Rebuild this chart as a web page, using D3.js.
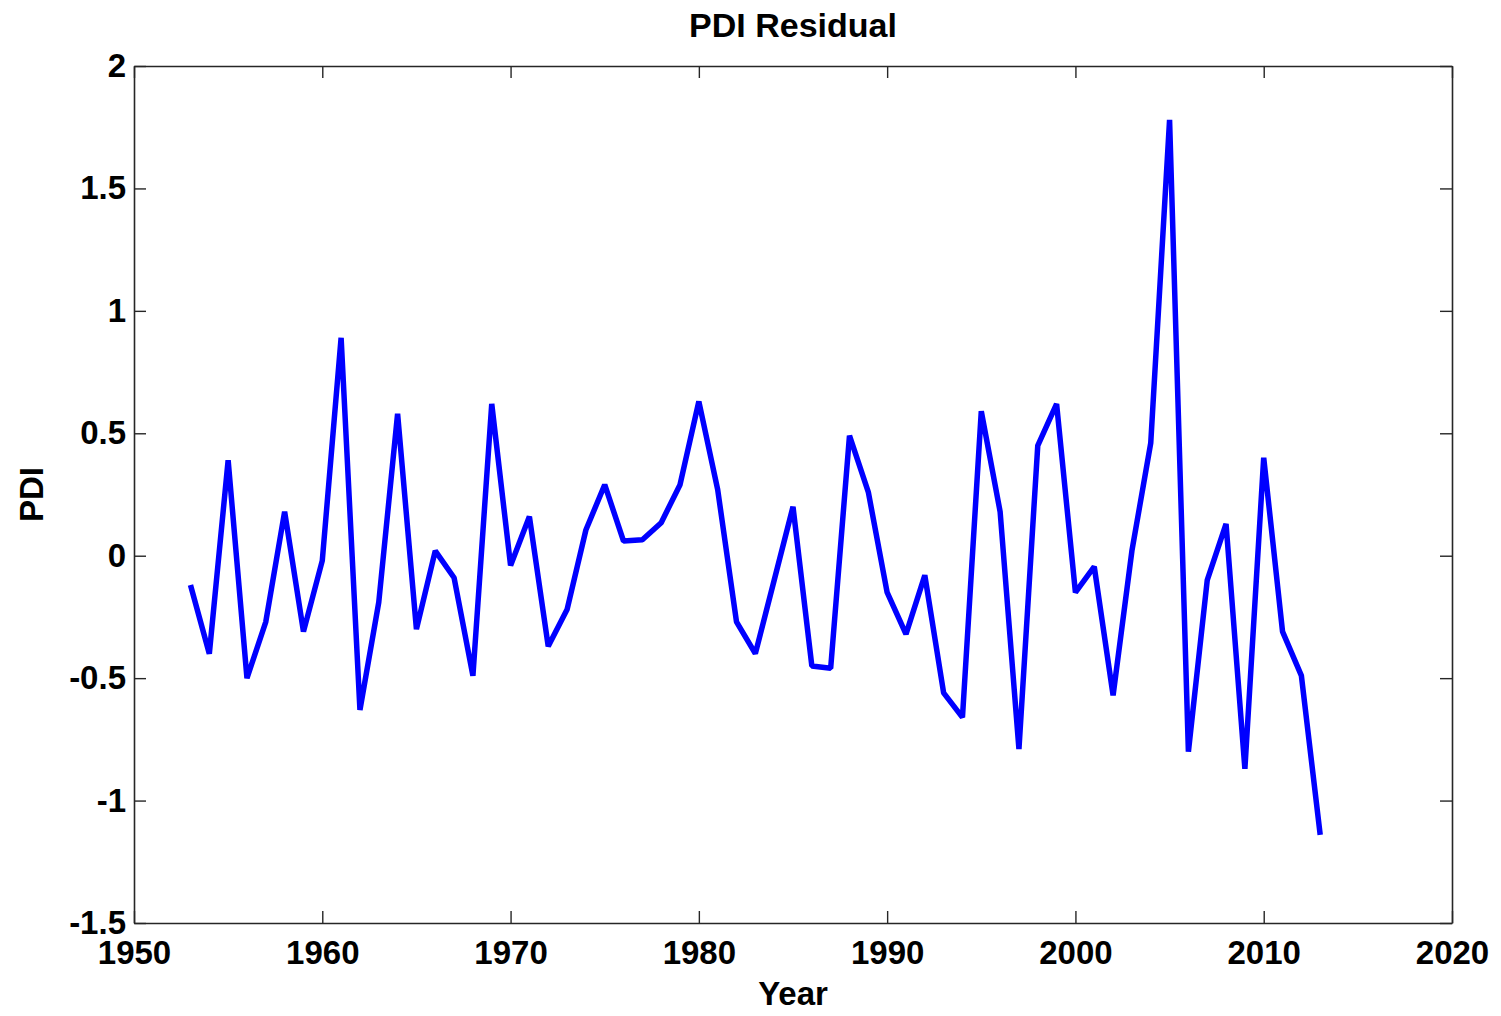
<!DOCTYPE html>
<html>
<head>
<meta charset="utf-8">
<script src="https://cdn.jsdelivr.net/npm/d3@7"></script>
<style>
  html, body { margin: 0; padding: 0; background: #fff; }
  svg { display: block; }
  text { font-family: "Liberation Sans", Arial, sans-serif; font-weight: bold; fill: #000; }
</style>
</head>
<body>
<script>
// ---- data ----
const years = [1953,1954,1955,1956,1957,1958,1959,1960,1961,1962,1963,1964,1965,1966,1967,1968,1969,1970,
  1971,1972,1973,1974,1975,1976,1977,1978,1979,1980,1981,1982,1983,1984,1985,1986,1987,1988,1989,1990,
  1991,1992,1993,1994,1995,1996,1997,1998,1999,2000,2001,2002,2003,2004,2005,2006,2007,2008,2009,2010,
  2011,2012,2013];
const pdiResidual = [-0.12,-0.40,0.39,-0.50,-0.27,0.18,-0.31,-0.02,0.89,-0.63,-0.19,0.58,-0.30,0.02,-0.09,-0.49,0.62,-0.04,
  0.16,-0.37,-0.22,0.105,0.29,0.06,0.065,0.135,0.29,0.63,0.27,-0.27,-0.40,-0.10,0.20,-0.45,-0.46,0.49,0.26,-0.15,
  -0.32,-0.08,-0.56,-0.66,0.59,0.18,-0.79,0.45,0.62,-0.15,-0.045,-0.57,0.02,0.46,1.78,-0.80,-0.10,0.13,-0.87,0.40,
  -0.31,-0.49,-1.14];
const xTicks = [1950,1960,1970,1980,1990,2000,2010,2020];
const yTicks = [-1.5,-1,-0.5,0,0.5,1,1.5,2];
const yTickLabels = ["-1.5","-1","-0.5","0","0.5","1","1.5","2"];
const titleText = "PDI Residual";
const xLabel = "Year";
const yLabel = "PDI";

// ---- layout ----
const W = 1501, H = 1016;
const L = 134, R = 1452, T = 66, B = 923;
const svg = d3.select("body").append("svg").attr("width", W).attr("height", H);

const x = d3.scaleLinear().domain([1950, 2020]).range([L, R]);
const y = d3.scaleLinear().domain([-1.5, 2]).range([B, T]);

const axisColor = "#262626";
const tick = 12;
const fs = 33;

function styleAxis(g) {
  g.selectAll("path.domain").attr("stroke", axisColor).attr("stroke-width", 1.6);
  g.selectAll(".tick line").attr("stroke", axisColor).attr("stroke-width", 1.4);
  g.selectAll("text").attr("font-size", fs).attr("font-family", "Liberation Sans, Arial, sans-serif")
    .attr("font-weight", "bold").attr("fill", "#000");
}

// bottom
svg.append("g").attr("transform", `translate(0,${B})`)
  .call(d3.axisBottom(x).tickValues(xTicks).tickFormat(d3.format("d")).tickSizeInner(-tick).tickSizeOuter(0).tickPadding(18))
  .call(styleAxis);
// top
svg.append("g").attr("transform", `translate(0,${T})`)
  .call(d3.axisTop(x).tickValues(xTicks).tickFormat("").tickSizeInner(-tick).tickSizeOuter(0))
  .call(styleAxis);
// left
svg.append("g").attr("transform", `translate(${L},0)`)
  .call(d3.axisLeft(y).tickValues(yTicks).tickFormat(d => yTickLabels[yTicks.indexOf(d)]).tickSizeInner(-tick).tickSizeOuter(0).tickPadding(8))
  .call(styleAxis);
// right
svg.append("g").attr("transform", `translate(${R},0)`)
  .call(d3.axisRight(y).tickValues(yTicks).tickFormat("").tickSizeInner(-tick).tickSizeOuter(0))
  .call(styleAxis);

// data line
const data = years.map((yr, i) => ({ yr, v: pdiResidual[i] }));
svg.append("path")
  .datum(data)
  .attr("fill", "none")
  .attr("stroke", "#0000ff")
  .attr("stroke-width", 5.5)
  .attr("stroke-linejoin", "bevel")
  .attr("d", d3.line().x(d => x(d.yr)).y(d => y(d.v)));

// titles
svg.append("text").attr("x", (L + R) / 2).attr("y", 37).attr("text-anchor", "middle")
  .attr("font-size", 34).text(titleText);
svg.append("text").attr("x", (L + R) / 2).attr("y", 1005).attr("text-anchor", "middle")
  .attr("font-size", fs).text(xLabel);
svg.append("text").attr("transform", `translate(43,${(T + B) / 2}) rotate(-90)`).attr("text-anchor", "middle")
  .attr("font-size", fs).text(yLabel);
</script>
</body>
</html>
